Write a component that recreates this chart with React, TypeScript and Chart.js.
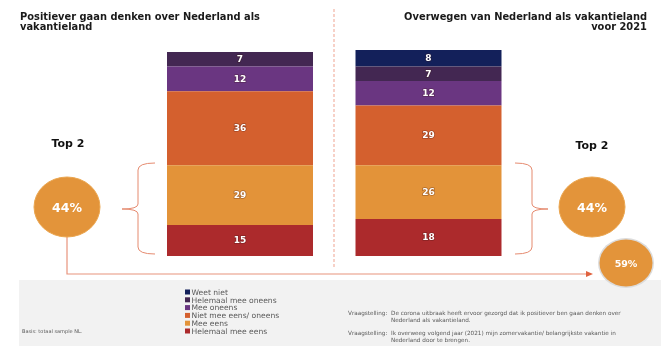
import React, { useEffect, useRef } from "react";
import { Chart, registerables } from "chart.js";

Chart.register(...registerables);

// ---- data ----
const categories = ["Positiever gaan denken", "Overwegen voor 2021"];
const seriesNames = [
  "Helemaal mee eens",
  "Mee eens",
  "Niet mee eens/ oneens",
  "Mee oneens",
  "Helemaal mee oneens",
  "Weet niet",
];
const seriesColors = ["#ac2a2c", "#e39339", "#d4602e", "#6a3681", "#432752", "#13205a"];
const helemaalMeeEens = [15, 18];
const meeEens = [29, 26];
const nietMeeEensOneens = [36, 29];
const meeOneens = [12, 12];
const helemaalMeeOneens = [7, 7];
const weetNiet = [0, 8];
const seriesValues = [helemaalMeeEens, meeEens, nietMeeEensOneens, meeOneens, helemaalMeeOneens, weetNiet];

const titleLeft = ["Positiever gaan denken over Nederland als", "vakantieland"];
const titleRight = ["Overwegen van Nederland als vakantieland", "voor 2021"];
const topLabel = "Top 2";
const topLeftValue = "44%";
const topRightValue = "44%";
const extraValue = "59%";
const basisText = "Basis: totaal sample NL.";
const questions = [
  [
    "Vraagstelling:",
    "De corona uitbraak heeft ervoor gezorgd dat ik positiever ben gaan denken over",
    "Nederland als vakantieland.",
  ],
  [
    "Vraagstelling:",
    "Ik overweeg volgend jaar (2021) mijn  zomervakantie/ belangrijkste vakantie in",
    "Nederland door te brengen.",
  ],
];

const W = 670;
const H = 359;
const FONT = "'DejaVu Sans', Verdana, sans-serif";

const valueLabelPlugin = {
  id: "valueLabels",
  afterDatasetsDraw(chart: any) {
    const ctx = chart.ctx;
    ctx.save();
    ctx.font = `bold 9px ${FONT}`;
    ctx.textAlign = "center";
    ctx.textBaseline = "middle";
    chart.data.datasets.forEach((ds: any, di: number) => {
      const meta = chart.getDatasetMeta(di);
      meta.data.forEach((el: any, i: number) => {
        const v = ds.data[i];
        if (!v) return;
        const y = (el.y + el.base) / 2;
        ctx.lineWidth = 1.5;
        ctx.strokeStyle = "rgba(60,20,20,0.35)";
        ctx.strokeText(String(v), el.x, y + 0.5);
        ctx.fillStyle = "#ffffff";
        ctx.fillText(String(v), el.x, y + 0.5);
      });
    });
    ctx.restore();
  },
};

export default function App() {
  const ref = useRef<HTMLCanvasElement | null>(null);

  useEffect(() => {
    if (!ref.current) return;
    const chart = new Chart(ref.current, {
      type: "bar",
      data: {
        labels: categories,
        datasets: seriesNames.map((name, i) => ({
          label: name,
          data: seriesValues[i],
          backgroundColor: seriesColors[i],
          borderWidth: 0,
          categoryPercentage: 1,
          barPercentage: 0.7745,
        })),
      },
      options: {
        animation: false,
        responsive: false,
        devicePixelRatio: 1,
        layout: { padding: { left: 145.75, right: 147.25, top: 50, bottom: 103 } },
        plugins: { legend: { display: false }, tooltip: { enabled: false } },
        scales: {
          x: { stacked: true, display: false },
          y: { stacked: true, display: false, min: 0, max: 100 },
        },
      },
      plugins: [valueLabelPlugin],
    });
    return () => chart.destroy();
  }, []);

  const legendItems = seriesNames.map((n, i) => ({ name: n, color: seriesColors[i] })).reverse();

  return (
    <div style={{ position: "absolute", left: 0, top: 0, width: W, height: H, background: "#fff", overflow: "hidden" }}>
      <canvas ref={ref} width={W} height={H} style={{ position: "absolute", left: 0, top: 0, width: W, height: H }} />
      <svg width={W} height={H} style={{ position: "absolute", left: 0, top: 0 }} fontFamily={FONT}>
        {/* divider */}
        <line x1={334} y1={9} x2={334} y2={268} stroke="#f2b3a3" strokeWidth={1.2} strokeDasharray="3 2" />
        {/* titles */}
        <text x={20} y={19.5} fontSize={9.9} fontWeight="bold" fill="#1a1a1a">{titleLeft[0]}</text>
        <text x={20} y={30} fontSize={9.9} fontWeight="bold" fill="#1a1a1a">{titleLeft[1]}</text>
        <text x={647} y={19.5} fontSize={9.9} fontWeight="bold" fill="#1a1a1a" textAnchor="end">{titleRight[0]}</text>
        <text x={647} y={30} fontSize={9.9} fontWeight="bold" fill="#1a1a1a" textAnchor="end">{titleRight[1]}</text>
        {/* footer box */}
        <rect x={19} y={280} width={642} height={66} fill="#f2f2f2" />
        {/* braces */}
        <path d="M155,163 Q138,163 138,170 L138,204 Q138,209 122,209 Q138,209 138,214 L138,247 Q138,254 155,254" fill="none" stroke="#e58a6f" strokeWidth={1} />
        <path d="M515,163 Q532,163 532,170 L532,204 Q532,209 548,209 Q532,209 532,214 L532,247 Q532,254 515,254" fill="none" stroke="#e58a6f" strokeWidth={1} />
        {/* connector */}
        <path d="M67,237 L67,274 L587,274" fill="none" stroke="#e8937c" strokeWidth={1.2} />
        <polygon points="586,271 593,274 586,277" fill="#e0623e" />
        {/* top 2 labels */}
        <text x={68} y={147} fontSize={11} fontWeight="bold" fill="#111" textAnchor="middle">{topLabel}</text>
        <text x={592} y={149} fontSize={11} fontWeight="bold" fill="#111" textAnchor="middle">{topLabel}</text>
        {/* circles */}
        <ellipse cx={67} cy={207} rx={33} ry={30} fill="#e3943a" stroke="#eaa650" strokeWidth={1} />
        <text x={67} y={211.5} fontSize={12.5} fontWeight="bold" fill="#fff" textAnchor="middle">{topLeftValue}</text>
        <ellipse cx={592} cy={207} rx={33} ry={30} fill="#e3943a" stroke="#eaa650" strokeWidth={1} />
        <text x={592} y={211.5} fontSize={12.5} fontWeight="bold" fill="#fff" textAnchor="middle">{topRightValue}</text>
        <ellipse cx={626} cy={263} rx={28} ry={25} fill="#dcdcdc" />
        <ellipse cx={626} cy={263} rx={26.5} ry={23.5} fill="#e3943a" />
        <text x={626} y={266.5} fontSize={9.5} fontWeight="bold" fill="#fff" textAnchor="middle">{extraValue}</text>
        {/* legend */}
        {legendItems.map((it, i) => (
          <g key={it.name}>
            <rect x={185} y={292 + i * 7.8 - 2.5} width={5} height={5} fill={it.color} />
            <text x={191.5} y={292 + i * 7.8 + 2.8} fontSize={7.6} fill="#595959">{it.name}</text>
          </g>
        ))}
        {/* basis */}
        <text x={22} y={332.5} fontSize={5} fill="#595959">{basisText}</text>
        {/* questions */}
        {questions.map((q, i) => (
          <g key={i} fontSize={5.7} fill="#595959">
            <text x={348} y={315 + i * 20}>{q[0]}</text>
            <text x={391} y={315 + i * 20}>{q[1]}</text>
            <text x={391} y={321.5 + i * 20}>{q[2]}</text>
          </g>
        ))}
      </svg>
    </div>
  );
}
